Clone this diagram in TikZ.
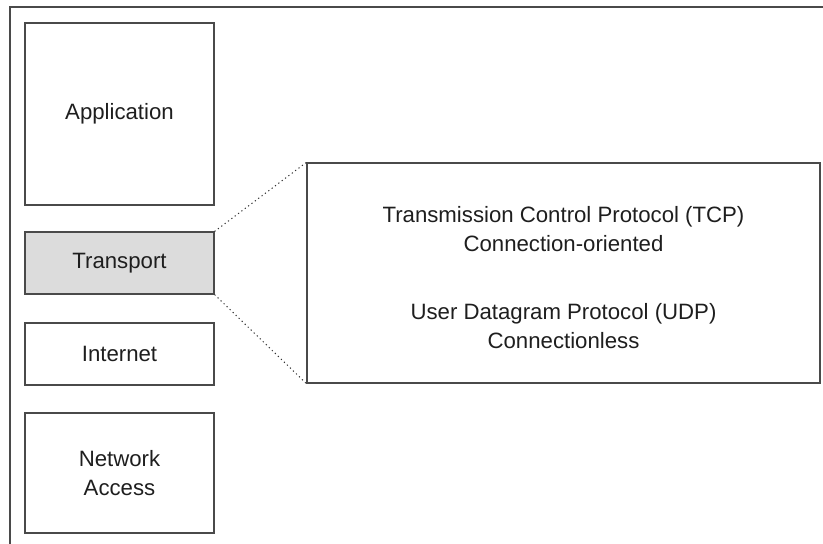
\documentclass[tikz,border=0pt]{standalone}
\usepackage{fontspec}
\setmainfont{Liberation Sans}
\definecolor{edge}{HTML}{4A4A4A}
\definecolor{shade}{HTML}{DCDCDC}
\definecolor{ink}{HTML}{1E1E1E}

\def\layerX{119.5}
\def\layerW{189}

\begin{document}
\begin{tikzpicture}[x=1pt, y=-1pt,
    layer/.style={draw=edge, line width=1.2pt, minimum width=\layerW pt,
      inner sep=0pt, align=center, text=ink, font=\fontsize{22.2}{28.5}\selectfont},
    prototext/.style={align=center, text=ink, inner sep=0pt,
      font=\fontsize{22.2}{28.5}\selectfont}]
  \useasboundingbox (0,0) rectangle (823,544);
  % frame
  \draw[edge, line width=1.2pt] (10,544) -- (10,7) -- (823,7);
  % the four layers
  \node[layer, minimum height=182pt] (app) at (\layerX,114) {Application};
  \node[layer, minimum height=62pt, fill=shade] (transport) at (\layerX,263) {Transport};
  \node[layer, minimum height=62pt] (internet) at (\layerX,354) {Internet};
  \node[layer, minimum height=120pt] (netaccess) at (\layerX,473) {Network\\Access};
  % transport protocols
  \node[layer, minimum width=513pt, minimum height=220pt] (protocols) at (563.5,273) {};
  \node[prototext] (tcp) at (563.5,229) {Transmission Control Protocol (TCP)\\Connection-oriented};
  \node[prototext] (udp) at (563.5,326) {User Datagram Protocol (UDP)\\Connectionless};
  \draw[black!80, line width=1pt, dash pattern=on 1.2pt off 3pt] (transport.north east) -- (protocols.north west);
  \draw[black!80, line width=1pt, dash pattern=on 1.2pt off 3pt] (transport.south east) -- (protocols.south west);
\end{tikzpicture}
\end{document}
